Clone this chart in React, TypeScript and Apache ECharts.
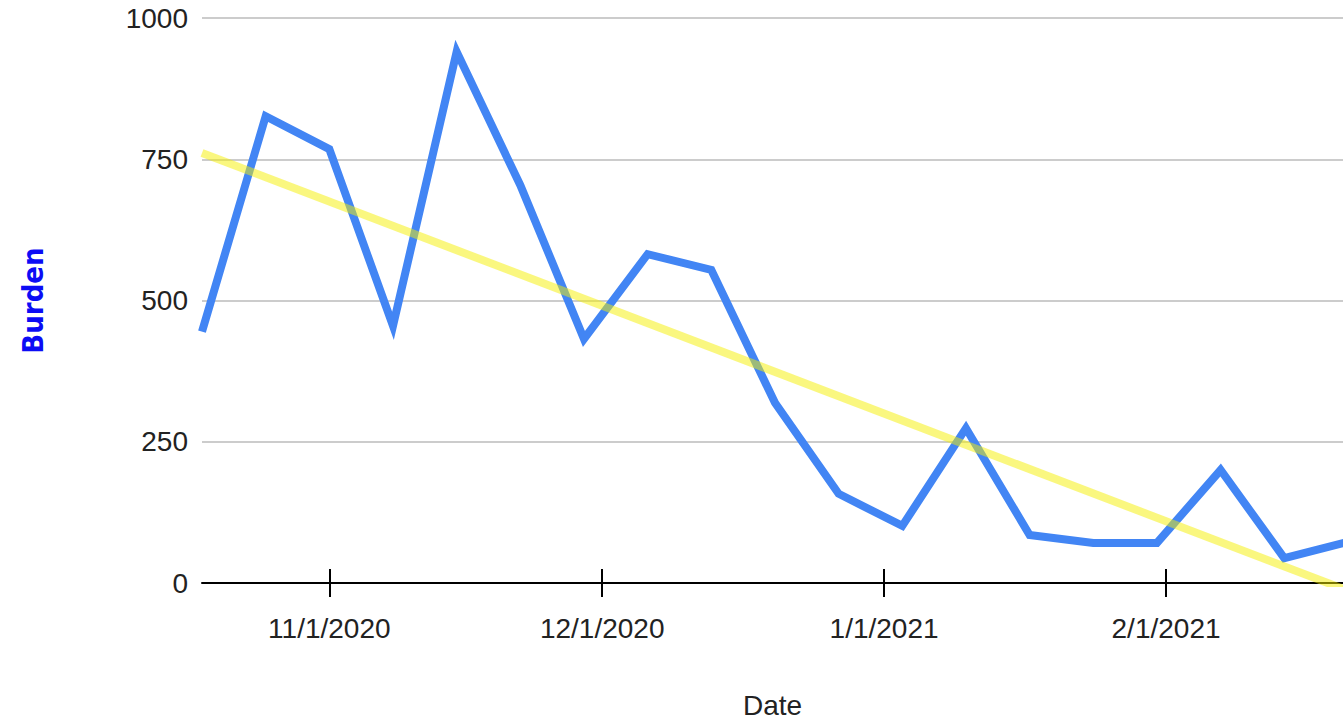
import React, { useEffect, useRef } from "react";
import * as echarts from "echarts";

const weekDates: string[] = [
  "2020-10-18", "2020-10-25", "2020-11-01", "2020-11-08", "2020-11-15",
  "2020-11-22", "2020-11-29", "2020-12-06", "2020-12-13", "2020-12-20",
  "2020-12-27", "2021-01-03", "2021-01-10", "2021-01-17", "2021-01-24",
  "2021-01-31", "2021-02-07", "2021-02-14", "2021-02-21",
];
const burden: number[] = [
  445, 826, 768, 455, 940, 704, 432, 582, 554, 319, 158, 101, 274, 85, 71, 71, 200, 44, 73,
];
const tickDates: string[] = ["2020-11-01", "2020-12-01", "2021-01-01", "2021-02-01"];
const tickLabels: string[] = ["11/1/2020", "12/1/2020", "1/1/2021", "2/1/2021"];
const yTicks: number[] = [0, 250, 500, 750, 1000];
const axisStart = "2020-10-18T00:00:00Z";
const axisEnd = "2021-02-20T11:00:00Z";

const toTs = (s: string) => new Date(s.length === 10 ? s + "T00:00:00Z" : s).getTime();

export default function App() {
  const ref = useRef<HTMLDivElement>(null);
  useEffect(() => {
    if (!ref.current) return;
    const chart = echarts.init(ref.current, null, { renderer: "svg" });
    const xs = weekDates.map(toTs);
    const pts = xs.map((x, i) => [x, burden[i]]);
    // linear least-squares trendline
    const n = xs.length;
    const mx = xs.reduce((a, b) => a + b, 0) / n;
    const my = burden.reduce((a, b) => a + b, 0) / n;
    let sxy = 0, sxx = 0;
    for (let i = 0; i < n; i++) {
      sxy += (xs[i] - mx) * (burden[i] - my);
      sxx += (xs[i] - mx) * (xs[i] - mx);
    }
    const slope = sxy / sxx;
    const icpt = my - slope * mx;
    const trend = [xs[0], xs[n - 1]].map((x) => [x, icpt + slope * x]);
    const tickVals = tickDates.map(toTs);
    const labelFont = "'Liberation Sans', Arial, sans-serif";
    const xMin = toTs(axisStart);
    const xMax = toTs(axisEnd);

    chart.setOption({
      animation: false,
      grid: { left: 202, right: 0, top: 18, bottom: 136, outerBoundsMode: "none", containLabel: false },
      xAxis: [
        {
          type: "value",
          min: xMin,
          max: xMax,
          scale: true,
          name: "Date",
          nameLocation: "middle",
          nameGap: 108,
          nameTextStyle: { fontSize: 28, color: "#222", fontFamily: labelFont },
          axisLine: { show: true, onZero: false, lineStyle: { color: "#000", width: 2 } },
          axisTick: { show: true, length: 14, lineStyle: { color: "#000", width: 2 }, customValues: tickVals },
          axisLabel: {
            customValues: tickVals,
            margin: 31,
            fontSize: 28,
            color: "#222",
            fontFamily: labelFont,
            formatter: (v: number) => {
              const i = tickVals.indexOf(v);
              return i >= 0 ? tickLabels[i] : "";
            },
          },
          splitLine: { show: false },
        },
        {
          type: "value",
          min: xMin,
          max: xMax,
          scale: true,
          position: "bottom",
          axisLine: { show: false, onZero: false },
          axisTick: { show: true, inside: true, length: 14, lineStyle: { color: "#000", width: 2 }, customValues: tickVals },
          axisLabel: { show: false },
          splitLine: { show: false },
        },
      ],
      yAxis: {
        type: "value",
        min: yTicks[0],
        max: yTicks[yTicks.length - 1],
        interval: yTicks[1] - yTicks[0],
        name: "Burden",
        nameLocation: "middle",
        nameGap: 155,
        nameTextStyle: {
          fontSize: 29,
          fontWeight: "bold",
          color: "#0c0cf5",
          fontFamily: "'Comic Sans MS', 'Liberation Sans Narrow', 'DejaVu Sans Condensed', sans-serif",
        },
        axisLine: { show: false },
        axisTick: { show: false },
        axisLabel: {
          margin: 14,
          fontSize: 28,
          color: "#222",
          fontFamily: labelFont,
          formatter: (v: number) => String(v),
        },
        splitLine: { show: true, lineStyle: { color: "#cccccc", width: 2 } },
      },
      series: [
        {
          type: "line",
          data: pts,
          showSymbol: false,
          symbol: "none",
          lineStyle: { color: "#4285f4", width: 8, join: "miter" },
          z: 2,
          clip: true,
        },
        {
          type: "line",
          data: trend,
          showSymbol: false,
          symbol: "none",
          lineStyle: { color: "#f5f000", width: 8, opacity: 0.5 },
          z: 3,
          clip: true,
        },
      ],
    });
    return () => chart.dispose();
  }, []);
  return (
    <div
      ref={ref}
      style={{ position: "absolute", left: 0, top: 0, width: 1343, height: 719, background: "#fff" }}
    />
  );
}
